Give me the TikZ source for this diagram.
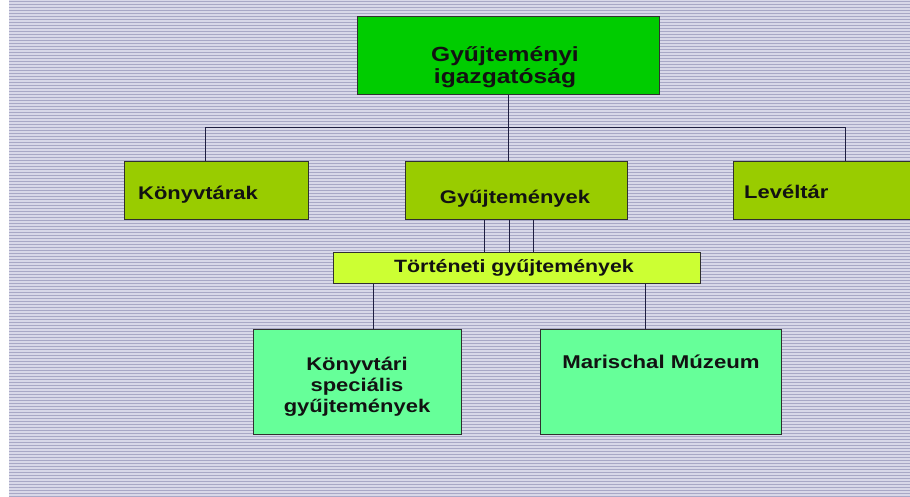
\documentclass[tikz,border=0pt]{standalone}
\usepackage{fontspec}
\newfontfamily\lab{Liberation Sans}[FakeStretch=1.2]
\definecolor{bgbase}{HTML}{D8D8E8}
\definecolor{bgline}{HTML}{A8A8C6}
\definecolor{topgreen}{HTML}{00CC00}
\definecolor{midgreen}{HTML}{99CC00}
\definecolor{yelgreen}{HTML}{CCFF33}
\definecolor{lightgreen}{HTML}{66FF99}
\definecolor{bordercol}{HTML}{303030}
\definecolor{conncol}{HTML}{1E1E40}
\tikzset{
  box/.style={rectangle, draw=bordercol, line width=1.4pt, anchor=north west, inner sep=0pt},
  conn/.style={draw=conncol, line width=1pt},
  txt/.style={inner sep=0pt, text=black!93, font=\lab\bfseries},
}
\begin{document}
\begin{tikzpicture}[x=1pt, y=-1pt]
\useasboundingbox (0,0) rectangle (910,496);
% background
\fill[bgbase] (9,0) rectangle (910,496);
\foreach \y in {1,4,...,496} \draw[bgline, line width=0.9pt] (9,\y) -- (910,\y);
% boxes
\node[box, fill=topgreen, minimum width=302pt, minimum height=78pt] (top) at (357,16) {};
\node[box, fill=midgreen, minimum width=184pt, minimum height=58pt] (kv) at (124,161) {};
\node[box, fill=midgreen, minimum width=222pt, minimum height=58pt] (gy) at (405,161) {};
\node[box, fill=midgreen, minimum width=182pt, minimum height=58pt] (lv) at (733,161) {};
\node[box, fill=yelgreen, minimum width=367pt, minimum height=31pt] (tg) at (333,252) {};
\node[box, fill=lightgreen, minimum width=208pt, minimum height=105pt] (kl) at (253,329) {};
\node[box, fill=lightgreen, minimum width=241pt, minimum height=105pt] (ms) at (540,329) {};
% connectors
\coordinate (busL) at (205,127);
\coordinate (busR) at (845,127);
\coordinate (g1) at (484,0);
\coordinate (g2) at (509,0);
\coordinate (g3) at (533,0);
\coordinate (t1) at (373,0);
\coordinate (t2) at (645,0);
\draw[conn] (top.south) -- (top.south |- gy.north);
\draw[conn] (busL |- kv.north) -- (busL) -- (busR) -- (busR |- lv.north);
\foreach \g in {g1,g2,g3} \draw[conn] (gy.south -| \g) -- (tg.north -| \g);
\foreach \t in {t1,t2} \draw[conn] (tg.south -| \t) -- (kl.north -| \t);
% texts
\node[txt, anchor=base, font=\lab\bfseries\fontsize{20.5}{22.5}\selectfont] (toptxt) at (505,61)
  {\begin{tabular}[t]{@{}c@{}}Gyűjteményi\\igazgatóság\end{tabular}};
\node[txt, anchor=base west, font=\lab\bfseries\fontsize{18.3}{20}\selectfont] (kvtxt) at (138,199) {Könyvtárak};
\node[txt, anchor=base, font=\lab\bfseries\fontsize{18.3}{20}\selectfont] (gytxt) at (515,203) {Gyűjtemények};
\node[txt, anchor=base west, font=\lab\bfseries\fontsize{18.3}{20}\selectfont] (lvtxt) at (744,198) {Levéltár};
\node[txt, anchor=base, font=\lab\bfseries\fontsize{17.8}{20}\selectfont] (tgtxt) at (514,272) {Történeti gyűjtemények};
\node[txt, anchor=base, font=\lab\bfseries\fontsize{18.3}{21}\selectfont] (kltxt) at (357,370)
  {\begin{tabular}[t]{@{}c@{}}Könyvtári\\speciális\\gyűjtemények\end{tabular}};
\node[txt, anchor=base, font=\lab\bfseries\fontsize{18.5}{20}\selectfont] (mstxt) at (661,368) {Marischal Múzeum};
\end{tikzpicture}
\end{document}
